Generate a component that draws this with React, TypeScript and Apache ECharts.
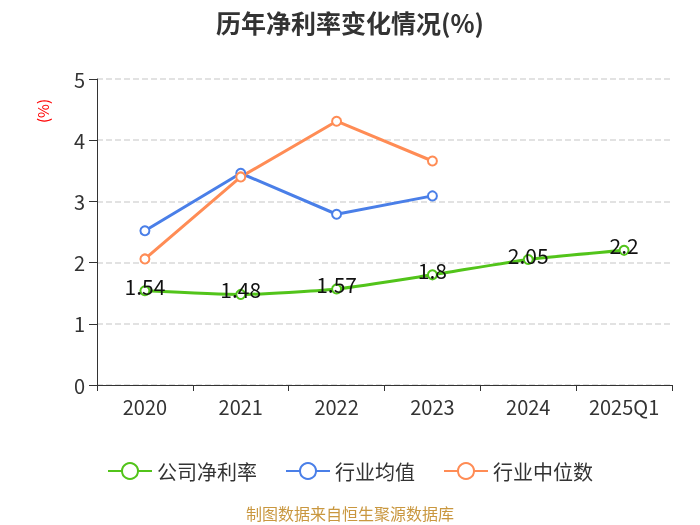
import React, { useEffect, useRef } from "react";
import * as echarts from "echarts";

const categories = ["2020", "2021", "2022", "2023", "2024", "2025Q1"];
const companyRate = [1.54, 1.48, 1.57, 1.8, 2.05, 2.2];
const industryAvg = [2.52, 3.46, 2.79, 3.09, null, null];
const industryMedian = [2.06, 3.4, 4.31, 3.66, null, null];
const yTicks = [0, 1, 2, 3, 4, 5];

const FONT = "'Noto Sans CJK SC', 'Noto Sans', sans-serif";

export default function App() {
  const ref = useRef<HTMLDivElement>(null);
  useEffect(() => {
    const chart = echarts.init(ref.current!, null, { renderer: "svg" });
    chart.setOption({
      animation: false,
      textStyle: { fontFamily: FONT },
      title: {
        text: "历年净利率变化情况(%)",
        left: "center",
        top: 4,
        textStyle: { fontSize: 25, fontWeight: "bold", color: "#333", fontFamily: FONT },
      },
      graphic: [
        {
          type: "text",
          x: 350,
          y: 513,
          style: {
            text: "制图数据来自恒生聚源数据库",
            fill: "#c9973f",
            fontSize: 16,
            fontFamily: FONT,
            align: "center",
            verticalAlign: "middle",
          },
        },
        {
          type: "text",
          x: 42,
          y: 111,
          rotation: Math.PI / 2,
          style: {
            text: "(%)",
            fill: "#f00",
            fontSize: 15,
            fontFamily: FONT,
            align: "center",
            verticalAlign: "middle",
          },
        },
      ],
      legend: {
        top: 456,
        left: "center",
        itemWidth: 44,
        itemHeight: 20,
        itemGap: 28,
        textStyle: { fontSize: 20, color: "#333", fontFamily: FONT },
        data: ["公司净利率", "行业均值", "行业中位数"],
      },
      grid: { left: 97, right: 28, top: 79, bottom: 140 },
      xAxis: {
        type: "category",
        data: categories,
        boundaryGap: true,
        axisLine: { lineStyle: { color: "#333" } },
        axisTick: { show: true, length: 6, interval: 0, lineStyle: { color: "#333" } },
        axisLabel: { fontSize: 20, color: "#333", margin: 11, interval: 0, fontFamily: FONT },
      },
      yAxis: {
        type: "value",
        min: yTicks[0],
        max: yTicks[yTicks.length - 1],
        interval: 1,
        axisLine: { show: true, lineStyle: { color: "#333" } },
        axisTick: { show: true, length: 8, lineStyle: { color: "#333" } },
        axisLabel: { fontSize: 20, color: "#333", margin: 12, fontFamily: FONT },
        splitLine: { lineStyle: { type: "dashed", color: "#d9d9d9", width: 1.5 } },
      },
      series: [
        {
          name: "公司净利率",
          type: "line",
          data: companyRate,
          smooth: 0.2,
          symbol: "emptyCircle",
          symbolSize: 9,
          color: "#52c41a",
          lineStyle: { width: 3, color: "#52c41a" },
          label: {
            show: true,
            position: "top",
            distance: -11,
            fontSize: 21,
            color: "#111",
            fontFamily: FONT,
          },
          z: 3,
        },
        {
          name: "行业均值",
          type: "line",
          data: industryAvg,
          symbol: "emptyCircle",
          symbolSize: 9,
          color: "#4a7fe8",
          lineStyle: { width: 3, color: "#4a7fe8" },
        },
        {
          name: "行业中位数",
          type: "line",
          data: industryMedian,
          symbol: "emptyCircle",
          symbolSize: 9,
          color: "#ff8c55",
          lineStyle: { width: 3, color: "#ff8c55" },
        },
      ],
    });
    return () => chart.dispose();
  }, []);
  return <div ref={ref} style={{ position: "fixed", left: 0, top: 0, width: 700, height: 525 }} />;
}
